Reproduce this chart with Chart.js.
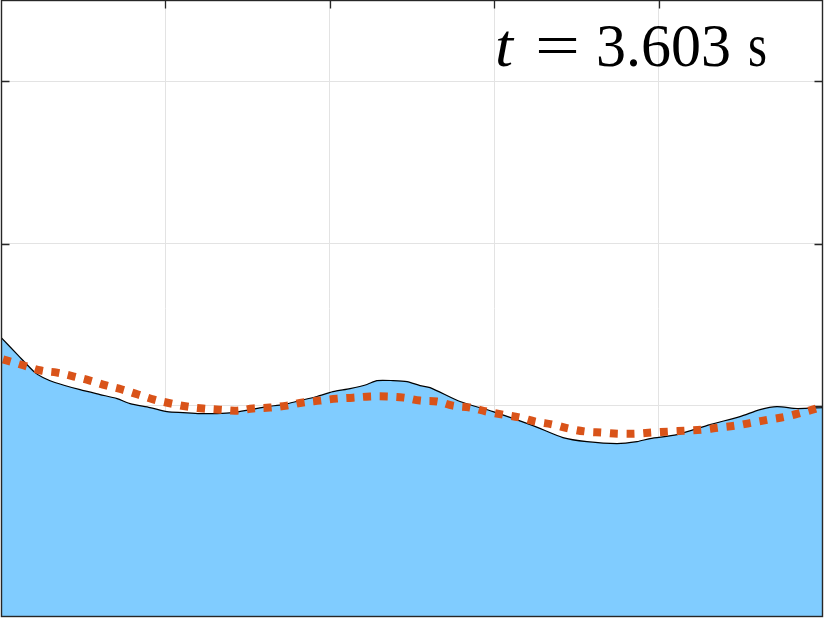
<!DOCTYPE html>
<html>
<head>
<meta charset="utf-8">
<script src="https://cdn.jsdelivr.net/npm/chart.js@4/dist/chart.umd.min.js"></script>
<style>
  html, body { margin: 0; padding: 0; background: #ffffff; }
  #wrap { width: 830px; height: 621px; }
</style>
</head>
<body>
<div id="wrap"><canvas id="c" width="830" height="621"></canvas></div>
<script>
// ---- data ----
const surfaceX = [0, 0.103, 0.207, 0.255, 0.328, 0.481, 0.602, 0.706, 0.785, 0.906, 1.010, 1.107, 1.210, 1.314, 1.411, 1.515, 1.618, 1.715, 1.819, 1.922, 2.019, 2.123, 2.226, 2.287, 2.384, 2.470, 2.549, 2.610, 2.792, 2.993, 3.236, 3.418, 3.564, 3.747, 3.869, 3.948, 4.112, 4.313, 4.495, 4.617, 4.720, 4.842, 5.000];
const surfaceY = [1.422, 1.313, 1.205, 1.175, 1.144, 1.100, 1.070, 1.045, 1.014, 0.990, 0.965, 0.959, 0.953, 0.953, 0.959, 0.977, 0.996, 1.008, 1.033, 1.058, 1.088, 1.107, 1.132, 1.156, 1.156, 1.150, 1.125, 1.113, 1.027, 0.965, 0.879, 0.805, 0.780, 0.768, 0.780, 0.799, 0.823, 0.885, 0.934, 0.977, 0.996, 0.984, 0.990];

const modelX = [0, 0.140, 0.243, 0.341, 0.444, 0.541, 0.639, 0.736, 0.833, 0.931, 1.034, 1.131, 1.229, 1.332, 1.436, 1.533, 1.636, 1.740, 1.837, 1.940, 2.044, 2.141, 2.245, 2.348, 2.451, 2.549, 2.652, 2.749, 2.853, 2.956, 3.054, 3.157, 3.254, 3.358, 3.455, 3.558, 3.656, 3.759, 3.863, 3.960, 4.063, 4.167, 4.264, 4.367, 4.471, 4.568, 4.672, 4.775, 4.872, 5.000];
const modelY = [1.290, 1.249, 1.218, 1.205, 1.181, 1.156, 1.126, 1.101, 1.070, 1.039, 1.015, 0.996, 0.984, 0.977, 0.971, 0.984, 0.990, 1.002, 1.021, 1.033, 1.045, 1.051, 1.058, 1.058, 1.051, 1.033, 1.027, 1.002, 0.990, 0.965, 0.946, 0.928, 0.903, 0.885, 0.860, 0.842, 0.836, 0.829, 0.829, 0.836, 0.842, 0.848, 0.854, 0.867, 0.879, 0.897, 0.916, 0.934, 0.959, 0.995];

const xTickValues = [1, 2, 3, 4];
const yTickValues = [0, 1, 2, 3];
const xRange = [0, 5];
const yRange = [-0.3, 3.5];

const annotationParts = [
  { text: 't', italic: true },
  { text: '=', italic: false },
  { text: '3.603', italic: false },
  { text: 's', italic: false }
];

// ---- build datasets ----
const surfacePts = surfaceX.map((x, i) => ({ x: x, y: surfaceY[i] }));
const modelPts = modelX.map((x, i) => ({ x: x, y: modelY[i] }));

const innerTicks = {
  id: 'innerTicks',
  beforeDatasetsDraw(chart) {
    const { ctx, chartArea: a, scales } = chart;
    ctx.save();
    ctx.strokeStyle = '#262626';
    ctx.lineWidth = 1.3;
    const L = 8.5;
    ctx.beginPath();
    xTickValues.forEach(v => {
      const px = Math.round(scales.x.getPixelForValue(v)) + 0.5;
      ctx.moveTo(px, a.top); ctx.lineTo(px, a.top + L);
      ctx.moveTo(px, a.bottom); ctx.lineTo(px, a.bottom - L);
    });
    yTickValues.forEach(v => {
      const py = Math.round(scales.y.getPixelForValue(v)) + 0.5;
      ctx.moveTo(a.left, py); ctx.lineTo(a.left + L, py);
      ctx.moveTo(a.right, py); ctx.lineTo(a.right - L, py);
    });
    ctx.stroke();
    ctx.restore();
  },
  afterDatasetsDraw(chart) {
    const { ctx, chartArea: a } = chart;
    ctx.save();
    ctx.strokeStyle = '#262626';
    ctx.lineWidth = 1.4;
    ctx.strokeRect(a.left + 0.5, a.top + 0.5, a.right - a.left - 1, a.bottom - a.top - 1);
    // annotation text
    const targets = [
      { x0: 495, w: 18 },
      { x0: 535, w: 45 },
      { x0: 596, w: 135 },
      { x0: 748, w: 19 }
    ];
    const baseline = a.top + 66;
    ctx.fillStyle = '#000000';
    ctx.textBaseline = 'alphabetic';
    ctx.textAlign = 'left';
    annotationParts.forEach((p, i) => {
      ctx.font = (p.italic ? 'italic ' : '') + '61px "Liberation Serif", "DejaVu Serif", serif';
      const m = ctx.measureText(p.text);
      const sx = targets[i].w / m.width;
      ctx.save();
      ctx.translate(a.left + targets[i].x0 - 1, baseline);
      ctx.scale(sx, 1);
      ctx.fillText(p.text, 0, 0);
      ctx.restore();
    });
    ctx.restore();
  }
};

new Chart(document.getElementById('c'), {
  type: 'line',
  data: {
    datasets: [
      {
        label: 'model',
        data: modelPts,
        borderColor: '#D95319',
        borderWidth: 8,
        borderDash: [8, 8.7],
        borderDashOffset: -2,
        borderCapStyle: 'butt',
        pointRadius: 0,
        fill: false,
        tension: 0.4,
        order: 1
      },
      {
        label: 'surface',
        data: surfacePts,
        borderColor: '#000000',
        borderWidth: 1.2,
        backgroundColor: '#80CCFF',
        pointRadius: 0,
        fill: 'start',
        tension: 0.25,
        order: 2
      }
    ]
  },
  options: {
    responsive: false,
    animation: false,
    devicePixelRatio: 1,
    layout: { padding: { left: 1, right: 7, top: 0, bottom: 4 } },
    plugins: { legend: { display: false }, tooltip: { enabled: false }, title: { display: false } },
    scales: {
      x: {
        type: 'linear',
        min: xRange[0], max: xRange[1],
        afterBuildTicks: s => { s.ticks = xTickValues.map(v => ({ value: v })); },
        ticks: { display: false },
        grid: { color: '#e3e3e3', lineWidth: 1, drawTicks: false },
        border: { display: false }
      },
      y: {
        type: 'linear',
        min: yRange[0], max: yRange[1],
        afterBuildTicks: s => { s.ticks = yTickValues.map(v => ({ value: v })); },
        ticks: { display: false },
        grid: { color: '#e3e3e3', lineWidth: 1, drawTicks: false },
        border: { display: false }
      }
    }
  },
  plugins: [innerTicks]
});
</script>
</body>
</html>
